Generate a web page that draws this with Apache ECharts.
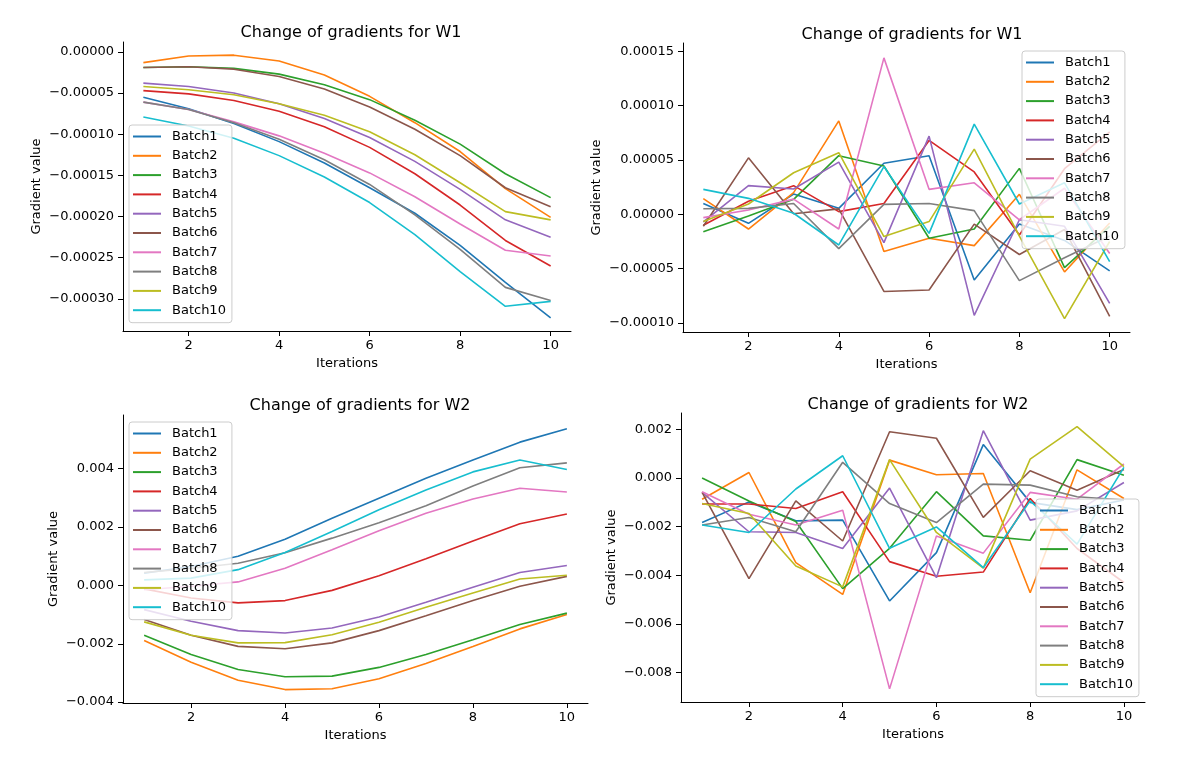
<!DOCTYPE html>
<html>
<head>
<meta charset="utf-8">
<script src="https://cdn.jsdelivr.net/npm/echarts@6/dist/echarts.min.js"></script>
<style>
  html, body { margin: 0; padding: 0; background: #fff; }
  #main { width: 1181px; height: 758px; }
</style>
</head>
<body>
<div id="main"></div>
<script>
var iterations = [1, 2, 3, 4, 5, 6, 7, 8, 9, 10];
var batchNames = ['Batch1', 'Batch2', 'Batch3', 'Batch4', 'Batch5', 'Batch6', 'Batch7', 'Batch8', 'Batch9', 'Batch10'];
var colors = ['#1f77b4', '#ff7f0e', '#2ca02c', '#d62728', '#9467bd', '#8c564b', '#e377c2', '#7f7f7f', '#bcbd22', '#17becf'];

// top left: W1, smooth
var w1Smooth = [
    [-5.5e-5, -6.9e-5, -8.7e-5, -10.9e-5, -13.5e-5, -16.5e-5, -19.6e-5, -23.5e-5, -28.0e-5, -32.3e-5],
    [-1.3e-5, -0.5e-5, -0.4e-5, -1.1e-5, -2.8e-5, -5.4e-5, -8.6e-5, -12.1e-5, -16.6e-5, -20.1e-5],
    [-1.9e-5, -1.8e-5, -2.0e-5, -2.7e-5, -4.0e-5, -5.8e-5, -8.3e-5, -11.2e-5, -14.8e-5, -17.7e-5],
    [-4.7e-5, -5.1e-5, -5.9e-5, -7.2e-5, -9.1e-5, -11.6e-5, -14.8e-5, -18.6e-5, -22.9e-5, -26.0e-5],
    [-3.8e-5, -4.2e-5, -5.0e-5, -6.3e-5, -8.1e-5, -10.4e-5, -13.3e-5, -16.7e-5, -20.4e-5, -22.5e-5],
    [-1.9e-5, -1.8e-5, -2.1e-5, -3.0e-5, -4.5e-5, -6.7e-5, -9.4e-5, -12.6e-5, -16.5e-5, -18.8e-5],
    [-6.1e-5, -7.0e-5, -8.5e-5, -10.2e-5, -12.3e-5, -14.7e-5, -17.6e-5, -20.9e-5, -24.1e-5, -24.8e-5],
    [-6.1e-5, -7.0e-5, -8.6e-5, -10.6e-5, -13.1e-5, -16.1e-5, -19.8e-5, -24.0e-5, -28.6e-5, -30.2e-5],
    [-4.2e-5, -4.6e-5, -5.2e-5, -6.3e-5, -7.7e-5, -9.7e-5, -12.5e-5, -15.9e-5, -19.4e-5, -20.4e-5],
    [-7.9e-5, -9.0e-5, -10.5e-5, -12.6e-5, -15.2e-5, -18.3e-5, -22.2e-5, -26.7e-5, -30.9e-5, -30.3e-5]
];

// top right: W1, noisy
var w1Noisy = [
    [1.0e-5, -0.83e-5, 1.87e-5, 0.55e-5, 4.7e-5, 5.4e-5, -6.04e-5, -0.89e-5, -2.4e-5, -5.2e-5],
    [1.44e-5, -1.35e-5, 2.0e-5, 8.6e-5, -3.43e-5, -2.2e-5, -2.88e-5, 1.84e-5, -5.3e-5, -0.8e-5],
    [-1.6e-5, -0.15e-5, 1.38e-5, 5.4e-5, 4.45e-5, -2.2e-5, -1.35e-5, 4.23e-5, -4.9e-5, -1.1e-5],
    [-1.0e-5, 1.2e-5, 2.64e-5, 0.25e-5, 1.0e-5, 6.8e-5, 3.9e-5, -1.9e-5, 4.2e-5, 7.6e-5],
    [-0.7e-5, 2.64e-5, 2.33e-5, 4.8e-5, -2.6e-5, 7.2e-5, -9.3e-5, -0.5e-5, -1.1e-5, -8.2e-5],
    [-1.1e-5, 5.2e-5, 0.06e-5, 0.5e-5, -7.1e-5, -6.96e-5, -0.9e-5, -3.7e-5, -1.4e-5, -9.4e-5],
    [-0.3e-5, 0.4e-5, 1.4e-5, -1.35e-5, 14.4e-5, 2.3e-5, 2.9e-5, -0.5e-5, 2.4e-5, -3.6e-5],
    [0.52e-5, 0.55e-5, 1.0e-5, -3.16e-5, 0.92e-5, 1.0e-5, 0.34e-5, -6.1e-5, -4.0e-5, -2.0e-5],
    [-0.67e-5, 0.95e-5, 3.83e-5, 5.67e-5, -2.05e-5, -0.67e-5, 6.0e-5, -2.0e-5, -9.6e-5, -2.5e-5],
    [2.3e-5, 1.47e-5, 0.1e-5, -2.82e-5, 4.4e-5, -1.75e-5, 8.3e-5, 0.95e-5, 2.9e-5, -4.35e-5]
];

// bottom left: W2, smooth
var w2Smooth = [
    [0.00042, 0.00065, 0.00100, 0.00158, 0.00230, 0.00299, 0.00367, 0.00430, 0.00491, 0.00537],
    [-0.00189, -0.00263, -0.00325, -0.00357, -0.00354, -0.00320, -0.00268, -0.00209, -0.00149, -0.00100],
    [-0.00171, -0.00237, -0.00288, -0.00313, -0.00311, -0.00281, -0.00237, -0.00186, -0.00134, -0.00095],
    [-0.00012, -0.00043, -0.00060, -0.00052, -0.00017, 0.00033, 0.00091, 0.00152, 0.00211, 0.00245],
    [-0.00083, -0.00123, -0.00155, -0.00163, -0.00146, -0.00108, -0.00058, -0.00006, 0.00044, 0.00068],
    [-0.00117, -0.00171, -0.00209, -0.00217, -0.00197, -0.00155, -0.00104, -0.00052, -0.00003, 0.00031],
    [-0.00015, -0.00003, 0.00012, 0.00059, 0.00122, 0.00187, 0.00247, 0.00296, 0.00333, 0.00320],
    [0.00044, 0.00058, 0.00076, 0.00112, 0.00162, 0.00215, 0.00273, 0.00341, 0.00403, 0.00420],
    [-0.00125, -0.00171, -0.00197, -0.00196, -0.00169, -0.00126, -0.00075, -0.00026, 0.00022, 0.00035],
    [0.00019, 0.00025, 0.00054, 0.00113, 0.00185, 0.00259, 0.00327, 0.00389, 0.00430, 0.00397]
];

// bottom right: W2, noisy
var w2Noisy = [
    [-0.00183, -0.00098, -0.00176, -0.00173, -0.00506, -0.00307, 0.00138, -0.00100, -0.00130, -0.00090],
    [-0.00087, 0.00023, -0.00348, -0.00479, 0.00074, 0.00014, 0.00019, -0.00472, 0.00034, -0.00084],
    [0.00000, -0.00094, -0.00179, -0.00455, -0.00289, -0.00056, -0.00238, -0.00256, 0.00076, 0.00012],
    [-0.00107, -0.00107, -0.00125, -0.00056, -0.00344, -0.00404, -0.00387, -0.00084, -0.00290, -0.00430],
    [-0.00059, -0.00221, -0.00224, -0.00290, -0.00041, -0.00410, 0.00195, -0.00173, -0.00135, -0.00018],
    [-0.00059, -0.00414, -0.00094, -0.00259, 0.00191, 0.00164, -0.00162, 0.00030, -0.00050, 0.00035],
    [-0.00056, -0.00149, -0.00193, -0.00132, -0.00868, -0.00238, -0.00309, -0.00059, -0.00087, 0.00058],
    [-0.00193, -0.00162, -0.00221, 0.00065, -0.00105, -0.00183, -0.00025, -0.00029, -0.00077, -0.00090],
    [-0.00105, -0.00146, -0.00362, -0.00448, 0.00076, -0.00224, -0.00371, 0.00078, 0.00212, 0.00047],
    [-0.00193, -0.00224, -0.00045, 0.00092, -0.00289, -0.00201, -0.00369, -0.00094, -0.00272, 0.00044]
];

var xTicks = [2, 4, 6, 8, 10];
var yTicksW1Smooth = [-0.0003, -0.00025, -0.0002, -0.00015, -0.0001, -0.00005, 0];
var yTicksW1Noisy = [-0.0001, -0.00005, 0, 0.00005, 0.0001, 0.00015];
var yTicksW2Smooth = [-0.004, -0.002, 0, 0.002, 0.004];
var yTicksW2Noisy = [-0.008, -0.006, -0.004, -0.002, 0, 0.002];

var font = 'DejaVu Sans';

var panels = [
    {title: 'Change of gradients for W1', data: w1Smooth, yTicks: yTicksW1Smooth, digits: 5,
     ymin: -0.000339, ymax: 0.000012, grid: {left: 123, top: 42, width: 448, height: 289},
     titleX: 346, titleY: 20, legend: {left: 129, top: 125}, yGap: 80},
    {title: 'Change of gradients for W1', data: w1Noisy, yTicks: yTicksW1Noisy, digits: 5,
     ymin: -0.0001083, ymax: 0.0001577, grid: {left: 683, top: 43, width: 447, height: 289},
     titleX: 907, titleY: 22, legend: {left: 1022, top: 51}, yGap: 80},
    {title: 'Change of gradients for W2', data: w2Smooth, yTicks: yTicksW2Smooth, digits: 3,
     ymin: -0.00403, ymax: 0.00584, grid: {left: 123, top: 415, width: 465, height: 288},
     titleX: 355, titleY: 393, legend: {left: 129, top: 422}, yGap: 63},
    {title: 'Change of gradients for W2', data: w2Noisy, yTicks: yTicksW2Noisy, digits: 3,
     ymin: -0.00922, ymax: 0.00268, grid: {left: 681, top: 413, width: 464, height: 289},
     titleX: 913, titleY: 392, legend: {left: 1036, top: 499}, yGap: 63}
];

function fmt(digits) {
    return function (v) {
        var s = Math.abs(v).toFixed(digits);
        return (v < 0 && Number(s) !== 0 ? '\u2212' : '') + s;
    };
}

var axisLineStyle = {lineStyle: {color: '#000', width: 1}};
var labelStyle = {color: '#000', fontFamily: font, fontSize: 13};

var option = {
    animation: false,
    backgroundColor: '#fff',
    color: colors,
    title: [],
    grid: [],
    xAxis: [],
    yAxis: [],
    legend: [],
    series: []
};

panels.forEach(function (p, i) {
    option.title.push({
        text: p.title, left: p.titleX, top: p.titleY, textAlign: 'center',
        textStyle: {fontFamily: font, fontSize: 16, fontWeight: 'normal', color: '#000'}
    });
    option.grid.push(p.grid);
    option.xAxis.push({
        type: 'value', gridIndex: i, min: 0.55, max: 10.45,
        name: 'Iterations', nameLocation: 'middle', nameGap: 26,
        nameTextStyle: {color: '#000', fontFamily: font, fontSize: 13},
        axisLine: Object.assign({onZero: false}, axisLineStyle),
        axisTick: {customValues: xTicks, length: 5, lineStyle: {color: '#000'}},
        axisLabel: Object.assign({customValues: xTicks, margin: 8}, labelStyle),
        splitLine: {show: false}
    });
    option.yAxis.push({
        type: 'value', gridIndex: i, min: p.ymin, max: p.ymax,
        name: 'Gradient value', nameLocation: 'middle', nameGap: p.yGap,
        nameTextStyle: {color: '#000', fontFamily: font, fontSize: 13},
        axisLine: Object.assign({show: true, onZero: false}, axisLineStyle),
        axisTick: {show: true, customValues: p.yTicks, length: 5, lineStyle: {color: '#000'}},
        axisLabel: Object.assign({customValues: p.yTicks, margin: 9, formatter: fmt(p.digits)}, labelStyle),
        splitLine: {show: false}
    });
    option.legend.push({
        data: batchNames, orient: 'vertical', left: p.legend.left, top: p.legend.top,
        icon: 'rect', itemWidth: 28, itemHeight: 2, itemGap: 6.3,
        padding: [5, 6, 6, 4],
        backgroundColor: 'rgba(255,255,255,0.8)', borderColor: '#cccccc', borderWidth: 1, borderRadius: 3,
        textStyle: {color: '#000', fontFamily: font, fontSize: 13, lineHeight: 13, padding: [0, 0, 0, 6]}
    });
    p.data.forEach(function (vals, k) {
        option.series.push({
            name: batchNames[k], type: 'line', xAxisIndex: i, yAxisIndex: i,
            symbol: 'none', color: colors[k],
            lineStyle: {width: 1.6, color: colors[k]},
            data: iterations.map(function (x, j) { return [x, vals[j]]; })
        });
    });
});

var myChart = echarts.init(document.getElementById('main'));
myChart.setOption(option);
</script>
</body>
</html>
